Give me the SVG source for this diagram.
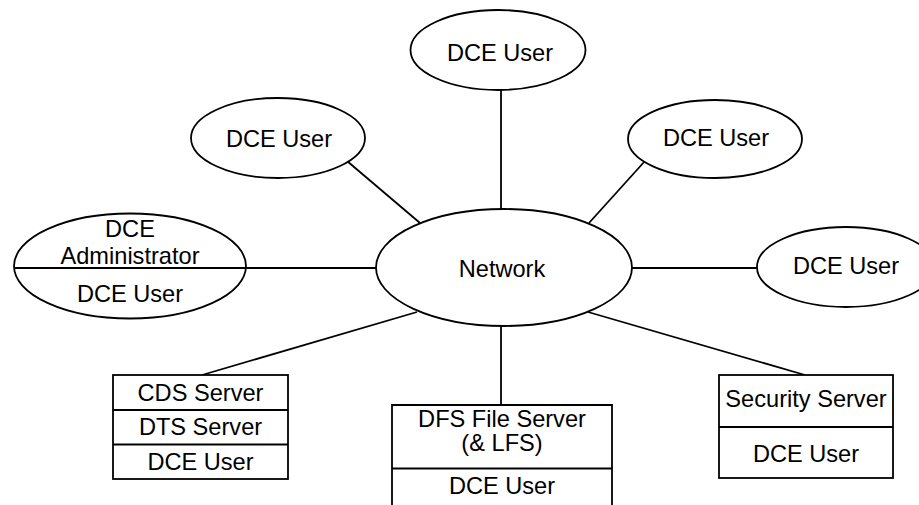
<svg xmlns="http://www.w3.org/2000/svg" width="919" height="505" viewBox="0 0 919 505">
<style>
.s{fill:#fff;stroke:#000;stroke-width:1.8}
.l{stroke:#000;stroke-width:1.8;fill:none}
text{font-family:"Liberation Sans",Arial,Helvetica,sans-serif;font-size:23.6px;fill:#000;text-anchor:middle}
</style>
<rect width="919" height="505" fill="#fff"/>
<g id="connectors">
<line class="l" x1="501" y1="90" x2="501" y2="209"/>
<line class="l" x1="347" y1="161" x2="420" y2="223"/>
<line class="l" x1="645" y1="161" x2="589" y2="223"/>
<line class="l" x1="246" y1="268" x2="376" y2="268"/>
<line class="l" x1="632" y1="268" x2="757" y2="268"/>
<line class="l" x1="202" y1="375" x2="417" y2="312"/>
<line class="l" x1="501" y1="326" x2="501" y2="405"/>
<line class="l" x1="805" y1="375" x2="588" y2="312"/>
</g>
<g id="network">
<ellipse class="s" cx="504" cy="267.5" rx="128" ry="58.5"/>
<text x="502" y="277">Network</text>
</g>
<g id="user-top">
<ellipse class="s" cx="498" cy="50" rx="87.5" ry="40"/>
<text x="500" y="61">DCE User</text>
</g>
<g id="user-left">
<ellipse class="s" cx="278" cy="138" rx="87" ry="40"/>
<text x="279" y="147">DCE User</text>
</g>
<g id="user-right">
<ellipse class="s" cx="715" cy="139" rx="87" ry="39"/>
<text x="716" y="146">DCE User</text>
</g>
<g id="user-far-right">
<ellipse class="s" cx="846" cy="267" rx="89" ry="40"/>
<text x="846" y="274">DCE User</text>
</g>
<g id="admin">
<ellipse class="s" cx="130" cy="266" rx="116" ry="52.5"/>
<line class="l" x1="14" y1="268" x2="246" y2="268"/>
<text x="130" y="237">DCE</text>
<text x="130" y="264">Administrator</text>
<text x="130" y="302">DCE User</text>
</g>
<g id="cds">
<rect class="s" x="113" y="375" width="175" height="104"/>
<line class="l" x1="113" y1="410" x2="288" y2="410"/>
<line class="l" x1="113" y1="444.5" x2="288" y2="444.5"/>
<text x="200.5" y="401">CDS Server</text>
<text x="200.5" y="435">DTS Server</text>
<text x="200.5" y="470">DCE User</text>
</g>
<g id="dfs">
<path class="s" d="M392,506 V405 H612 V506"/>
<line class="l" x1="392" y1="468.5" x2="612" y2="468.5"/>
<text x="502" y="427">DFS File Server</text>
<text x="502" y="451">(&amp; LFS)</text>
<text x="502" y="494">DCE User</text>
</g>
<g id="security">
<rect class="s" x="719" y="375" width="174" height="103"/>
<line class="l" x1="719" y1="427" x2="893" y2="427"/>
<text x="806" y="407">Security Server</text>
<text x="806" y="462">DCE User</text>
</g>
</svg>
